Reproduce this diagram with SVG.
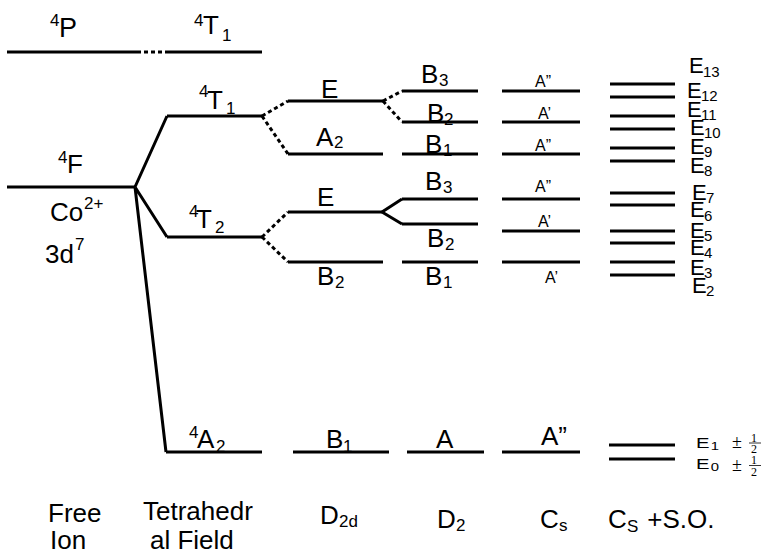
<svg xmlns="http://www.w3.org/2000/svg" width="768" height="554" viewBox="0 0 768 554">
<style>
.lv{stroke:#000;stroke-width:3;fill:none}
.ds{stroke:#000;stroke-width:3;fill:none;stroke-dasharray:4 3}
text{font-family:"Liberation Sans",Arial,sans-serif;fill:#000}
.t{font-size:26px}
.s{font-size:17px}
.e{font-size:22px}
.es{font-size:15px}
.a{font-size:16px}
.sf{font-family:"Liberation Serif","Times New Roman",serif}
</style>
<rect width="768" height="554" fill="#fff"/>
<g id="connectors">
<path class="ds" d="M137,52 H167"/>
<path class="lv" d="M135,187 L167,116 M135,187 L167,237 M135,187 L166,452"/>
<path class="ds" d="M262,116 L288,101 M262,116 L288,154 M262,237 L288,212 M262,237 L288,262"/>
<path class="ds" d="M383,101 L402,91 M383,101 L402,122"/>
<path class="lv" d="M382,212 L402,199 M382,212 L402,224"/>
</g>
<g id="free-4P"><path class="lv" d="M7,52 H137"/><text class="t"><tspan class="s" x="50" y="26">4</tspan><tspan x="59" y="37" font-size="27">P</tspan></text></g>
<g id="td-4T1-top"><path class="lv" d="M167,52 H262"/><text class="t"><tspan class="s" x="194" y="26">4</tspan><tspan x="203" y="34">T</tspan><tspan class="s" x="222" y="41">1</tspan></text></g>
<g id="free-4F"><path class="lv" d="M7,187 H135"/><text class="t"><tspan class="s" x="58" y="163">4</tspan><tspan x="67" y="173">F</tspan></text>
<text class="t"><tspan x="50" y="221">Co</tspan><tspan class="s" x="84" y="209">2+</tspan></text>
<text class="t"><tspan x="45" y="263">3d</tspan><tspan class="s" x="75" y="250">7</tspan></text></g>
<g id="td-4T1"><path class="lv" d="M167,116 H262"/><text class="t"><tspan class="s" x="199" y="97">4</tspan><tspan x="207" y="109">T</tspan><tspan class="s" x="226" y="114">1</tspan></text></g>
<g id="td-4T2"><path class="lv" d="M167,237 H262"/><text class="t"><tspan class="s" x="189" y="217">4</tspan><tspan x="196" y="228">T</tspan><tspan class="s" x="215" y="233">2</tspan></text></g>
<g id="td-4A2"><path class="lv" d="M166,452 H262"/><text class="t"><tspan class="s" x="189" y="438">4</tspan><tspan x="197" y="448">A</tspan><tspan class="s" x="216" y="452">2</tspan></text></g>
<g id="d2d-E1"><path class="lv" d="M288,101 H383"/><text class="t" x="321" y="98">E</text></g>
<g id="d2d-A2"><path class="lv" d="M288,154 H383"/><text class="t"><tspan x="316" y="146">A</tspan><tspan class="s" x="334" y="148">2</tspan></text></g>
<g id="d2d-E2"><path class="lv" d="M288,212 H382"/><text class="t" x="317" y="206">E</text></g>
<g id="d2d-B2"><path class="lv" d="M288,262 H383"/><text class="t"><tspan x="317" y="285">B</tspan><tspan class="s" x="335" y="288">2</tspan></text></g>
<g id="d2d-B1"><path class="lv" d="M293,452 H389"/><text class="t"><tspan x="326" y="448">B</tspan><tspan class="s" x="343" y="452">1</tspan></text></g>
<g id="d2-B3a"><path class="lv" d="M402,91 H478"/><text class="t"><tspan x="421" y="83">B</tspan><tspan class="s" x="439" y="86">3</tspan></text></g>
<g id="d2-B2a"><path class="lv" d="M402,122 H478"/><text class="t"><tspan x="427" y="122">B</tspan><tspan class="s" x="444" y="125">2</tspan></text></g>
<g id="d2-B1a"><path class="lv" d="M402,154 H478"/><text class="t"><tspan x="425" y="153">B</tspan><tspan class="s" x="443" y="156">1</tspan></text></g>
<g id="d2-B3b"><path class="lv" d="M402,199 H478"/><text class="t"><tspan x="425" y="190">B</tspan><tspan class="s" x="443" y="193">3</tspan></text></g>
<g id="d2-B2b"><path class="lv" d="M402,224 H478"/><text class="t"><tspan x="427" y="247">B</tspan><tspan class="s" x="445" y="250">2</tspan></text></g>
<g id="d2-B1b"><path class="lv" d="M402,262 H478"/><text class="t"><tspan x="425" y="285">B</tspan><tspan class="s" x="443" y="288">1</tspan></text></g>
<g id="d2-A"><path class="lv" d="M407,452 H484"/><text class="t" x="436" y="448">A</text></g>
<g id="cs-1"><path class="lv" d="M502,91 H580"/><text class="a" x="535" y="87">A”</text></g>
<g id="cs-2"><path class="lv" d="M502,122 H580"/><text class="a" x="538" y="119">A’</text></g>
<g id="cs-3"><path class="lv" d="M502,154 H580"/><text class="a" x="535" y="151">A”</text></g>
<g id="cs-4"><path class="lv" d="M502,199 H580"/><text class="a" x="535" y="192">A”</text></g>
<g id="cs-5"><path class="lv" d="M502,231 H580"/><text class="a" x="538" y="227">A’</text></g>
<g id="cs-6"><path class="lv" d="M502,262 H580"/><text class="a" x="545" y="283">A’</text></g>
<g id="cs-7"><path class="lv" d="M502,452 H580"/><text class="t" x="541" y="445">A”</text></g>
<g id="so-levels">
<path class="lv" d="M610,84 H675 M610,97 H675 M610,116 H675 M610,129 H675 M610,148 H675 M610,161 H675 M610,193 H675 M610,205 H675 M610,231 H675 M610,243 H675 M610,262 H675 M610,275 H675 M609,445 H675 M609,459 H675"/>
</g>
<g id="so-labels">
<text class="e"><tspan x="689" y="73">E</tspan><tspan class="es" x="703" y="77">13</tspan></text>
<text class="e"><tspan x="687" y="98">E</tspan><tspan class="es" x="701" y="101">12</tspan></text>
<text class="e"><tspan x="687" y="117">E</tspan><tspan class="es" x="701" y="120">11</tspan></text>
<text class="e"><tspan x="690" y="135">E</tspan><tspan class="es" x="704" y="138">10</tspan></text>
<text class="e"><tspan x="690" y="154">E</tspan><tspan class="es" x="704" y="157">9</tspan></text>
<text class="e"><tspan x="690" y="173">E</tspan><tspan class="es" x="704" y="176">8</tspan></text>
<text class="e"><tspan x="692" y="200">E</tspan><tspan class="es" x="706" y="203">7</tspan></text>
<text class="e"><tspan x="690" y="217">E</tspan><tspan class="es" x="704" y="221">6</tspan></text>
<text class="e"><tspan x="690" y="238">E</tspan><tspan class="es" x="704" y="241">5</tspan></text>
<text class="e"><tspan x="690" y="255">E</tspan><tspan class="es" x="704" y="258">4</tspan></text>
<text class="e"><tspan x="690" y="275">E</tspan><tspan class="es" x="704" y="278">3</tspan></text>
<text class="e"><tspan x="692" y="293">E</tspan><tspan class="es" x="706" y="296">2</tspan></text>
<text font-size="15" transform="translate(696,448) scale(1.35,1)"><tspan x="0" y="0">E</tspan><tspan font-size="11" x="11" y="2">1</tspan></text>
<text font-size="15" transform="translate(696,469) scale(1.35,1)"><tspan x="0" y="0">E</tspan><tspan font-size="11" x="11" y="2">0</tspan></text>
<text class="sf" font-size="18" x="732" y="448">±</text>
<text class="sf" font-size="18" x="732" y="471">±</text>
<text class="sf" font-size="12" x="751" y="441.5">1</text>
<text class="sf" font-size="12" x="751" y="453">2</text>
<text class="sf" font-size="12" x="751" y="463.5">1</text>
<text class="sf" font-size="12" x="751" y="476">2</text>
<path d="M749,443 H761 M749,465.5 H761" stroke="#000" stroke-width="0.8"/>
</g>
<g id="titles">
<text class="t" x="48" y="522">Free</text>
<text class="t" x="50" y="549">Ion</text>
<text class="t" x="143" y="520">Tetrahedr</text>
<text class="t" x="150" y="549">al Field</text>
<text class="t"><tspan x="320" y="524">D</tspan><tspan class="s" x="339" y="527">2d</tspan></text>
<text class="t"><tspan x="437" y="528">D</tspan><tspan class="s" x="456" y="531">2</tspan></text>
<text class="t"><tspan x="540" y="528">C</tspan><tspan class="s" x="559" y="531">s</tspan></text>
<text class="t"><tspan x="608" y="528">C</tspan><tspan class="s" x="627" y="532">S</tspan><tspan x="640" y="528"> +S.O.</tspan></text>
</g>
</svg>
